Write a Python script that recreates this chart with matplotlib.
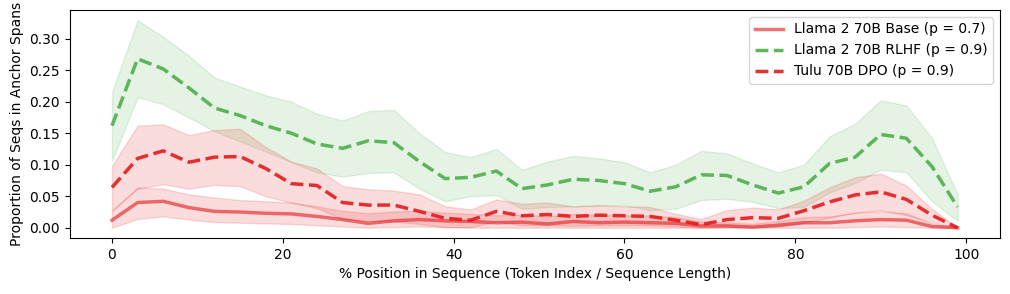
import matplotlib
matplotlib.use("Agg")
import matplotlib.pyplot as plt
import numpy as np

# % position in sequence (sampled every 3 points)
positions = np.arange(0, 100, 3)

base_mean = [0.012, 0.040, 0.042, 0.032, 0.026, 0.025, 0.023, 0.022, 0.018, 0.013,
             0.007, 0.011, 0.013, 0.011, 0.010, 0.008, 0.009, 0.006, 0.010, 0.008,
             0.009, 0.008, 0.007, 0.003, 0.003, 0.001, 0.004, 0.008, 0.008, 0.011,
             0.013, 0.012, 0.002, 0.000]
base_upper = [0.027, 0.064, 0.062, 0.053, 0.048, 0.044, 0.042, 0.040, 0.034, 0.027,
              0.023, 0.026, 0.027, 0.024, 0.022, 0.020, 0.021, 0.018, 0.022, 0.020,
              0.020, 0.019, 0.017, 0.010, 0.009, 0.006, 0.011, 0.017, 0.018, 0.024,
              0.026, 0.023, 0.006, 0.000]
base_lower = [0.000, 0.014, 0.018, 0.013, 0.009, 0.008, 0.007, 0.006, 0.004, 0.002,
              0.000, 0.001, 0.002, 0.001, 0.000, 0.000, 0.000, 0.000, 0.000, 0.000,
              0.000, 0.000, 0.000, 0.000, 0.000, 0.000, 0.000, 0.000, 0.000, 0.001,
              0.002, 0.001, 0.000, 0.000]

rlhf_mean = [0.162, 0.268, 0.252, 0.222, 0.190, 0.178, 0.162, 0.150, 0.133, 0.126,
             0.138, 0.135, 0.105, 0.078, 0.080, 0.090, 0.062, 0.068, 0.077, 0.075,
             0.070, 0.058, 0.065, 0.084, 0.083, 0.068, 0.055, 0.065, 0.102, 0.112,
             0.148, 0.142, 0.097, 0.033]
rlhf_upper = [0.215, 0.329, 0.303, 0.273, 0.238, 0.224, 0.210, 0.200, 0.181, 0.170,
              0.185, 0.187, 0.150, 0.120, 0.112, 0.125, 0.092, 0.105, 0.114, 0.110,
              0.104, 0.088, 0.100, 0.122, 0.118, 0.102, 0.088, 0.100, 0.145, 0.165,
              0.202, 0.194, 0.142, 0.053]
rlhf_lower = [0.106, 0.207, 0.196, 0.175, 0.153, 0.137, 0.121, 0.104, 0.088, 0.081,
              0.087, 0.088, 0.062, 0.042, 0.050, 0.052, 0.030, 0.033, 0.034, 0.035,
              0.036, 0.028, 0.030, 0.044, 0.046, 0.041, 0.031, 0.033, 0.056, 0.071,
              0.092, 0.088, 0.042, 0.011]

dpo_mean = [0.064, 0.110, 0.122, 0.104, 0.112, 0.113, 0.094, 0.070, 0.067, 0.040,
            0.036, 0.036, 0.026, 0.015, 0.012, 0.026, 0.019, 0.021, 0.018, 0.020,
            0.019, 0.018, 0.012, 0.005, 0.013, 0.016, 0.015, 0.027, 0.041, 0.052,
            0.057, 0.045, 0.020, 0.000]
dpo_upper = [0.098, 0.162, 0.164, 0.147, 0.155, 0.157, 0.128, 0.105, 0.094, 0.066,
             0.061, 0.059, 0.053, 0.034, 0.029, 0.045, 0.038, 0.040, 0.034, 0.036,
             0.034, 0.033, 0.022, 0.014, 0.028, 0.032, 0.029, 0.043, 0.064, 0.080,
             0.086, 0.067, 0.030, 0.000]
dpo_lower = [0.027, 0.062, 0.069, 0.062, 0.068, 0.066, 0.050, 0.040, 0.031, 0.014,
             0.011, 0.010, 0.006, 0.001, 0.001, 0.010, 0.004, 0.004, 0.003, 0.004,
             0.004, 0.004, 0.002, 0.000, 0.001, 0.002, 0.002, 0.008, 0.016, 0.024,
             0.028, 0.020, 0.008, 0.000]

red = "#e41a1c"
green = "#4daf4a"

fig = plt.figure(figsize=(10.1, 2.94), dpi=100)
ax = fig.add_axes([0.069, 0.19, 0.921, 0.776])

ax.fill_between(positions, base_lower, base_upper, color=red, alpha=0.15, linewidth=1)
ax.plot(positions, base_mean, color=red, alpha=0.6, linewidth=2.5,
        label="Llama 2 70B Base (p = 0.7)")

ax.fill_between(positions, rlhf_lower, rlhf_upper, color=green, alpha=0.15, linewidth=1)
ax.plot(positions, rlhf_mean, color=green, linestyle="--", alpha=0.9, linewidth=2.5,
        label="Llama 2 70B RLHF (p = 0.9)")

ax.fill_between(positions, dpo_lower, dpo_upper, color=red, alpha=0.15, linewidth=1)
ax.plot(positions, dpo_mean, color=red, linestyle="--", alpha=0.9, linewidth=2.5,
        label="Tulu 70B DPO (p = 0.9)")

ax.set_xlabel("% Position in Sequence (Token Index / Sequence Length)")
ax.set_ylabel("Proportion of Seqs in Anchor Spans")
ax.set_yticks([0.0, 0.05, 0.10, 0.15, 0.20, 0.25, 0.30])
ax.legend(loc="upper right")

fig.savefig("out.png", dpi=100)
